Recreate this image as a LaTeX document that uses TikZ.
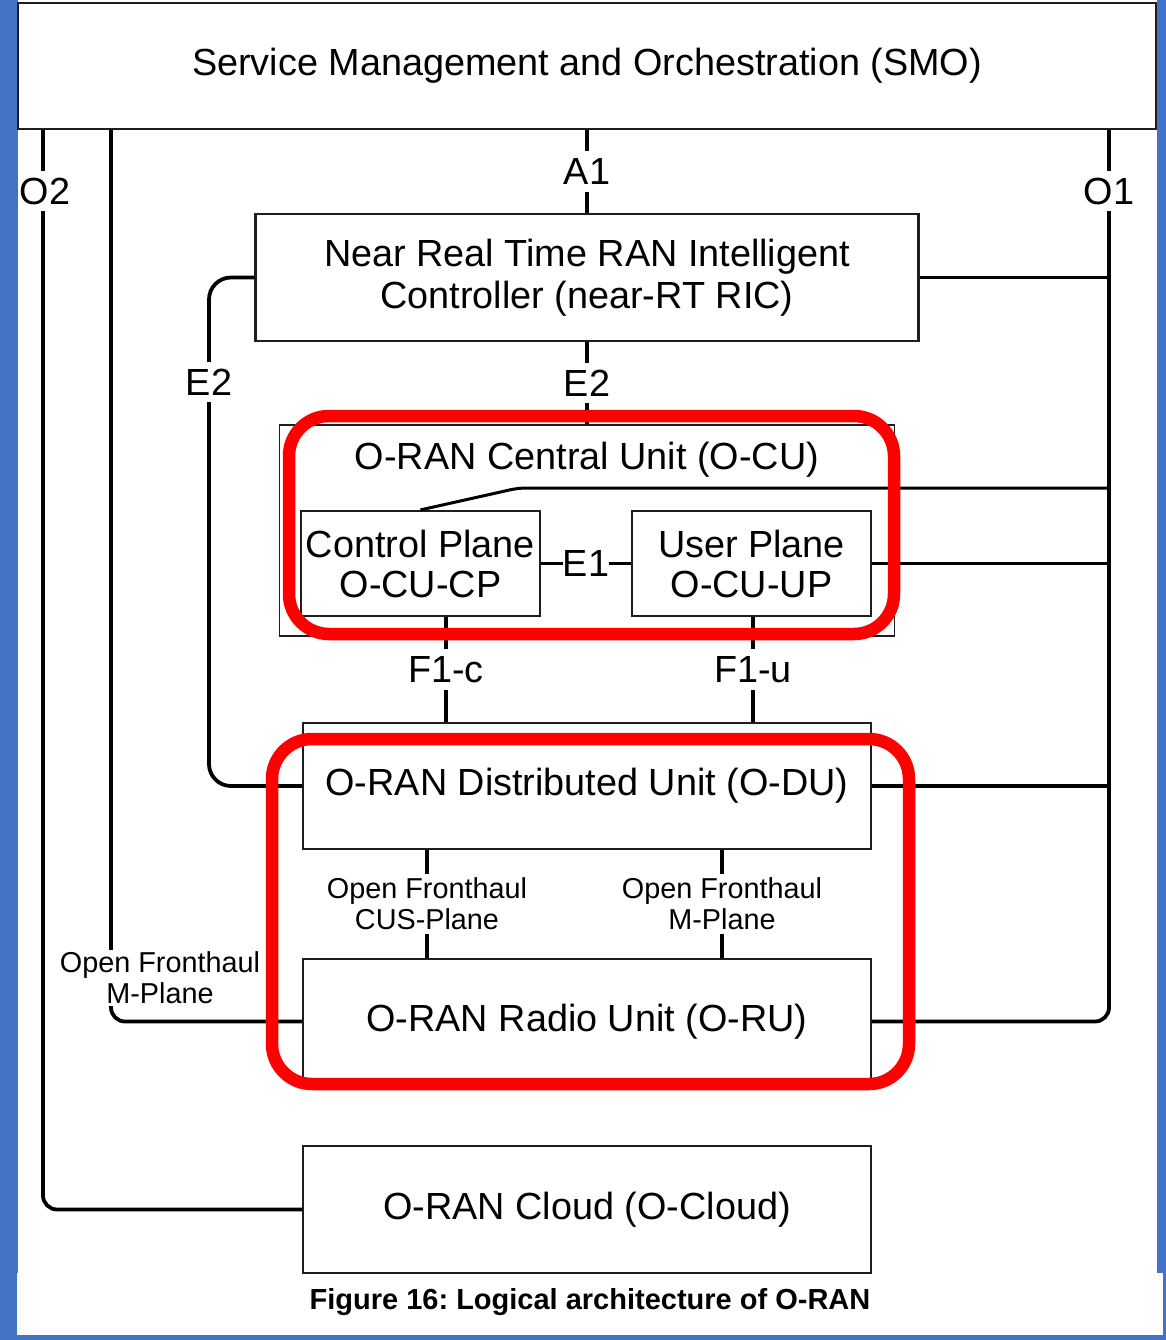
\documentclass[tikz,border=0pt]{standalone}
\usepackage{fontspec}
\setmainfont{Liberation Sans}
\frenchspacing
\definecolor{bgblue}{RGB}{68,114,196}
\definecolor{boxline}{RGB}{30,30,30}
\begin{document}
\begin{tikzpicture}[x=1pt,y=-1pt,
  box/.style={draw=boxline, line width=2.2pt, fill=white, inner sep=0pt, align=center,
    font=\fontsize{37.8}{42}\selectfont},
  conn/.style={line width=3.8pt, black},
  lbl/.style={fill=white, inner xsep=2pt, inner ysep=7pt, font=\fontsize{37.8}{42}\selectfont},
  small/.style={fill=white, inner sep=1pt, align=center, font=\fontsize{28.8}{31}\selectfont},
  redbox/.style={draw=red, line width=12.5pt, rounded corners=40pt},
]
\useasboundingbox (0,0) rectangle (1166,1340);
% background
\fill[bgblue] (0,0) rectangle (1166,1340);
\fill[white] (18,0) rectangle (1157,1273);
\fill[white] (17,1273) rectangle (1163,1335);

% boxes
\node[box, minimum width=1138, minimum height=126] (smo) at (587,66) {Service Management and Orchestration (SMO)};
\node[box, minimum width=663, minimum height=127] (ric) at (587,277.5) {Near Real Time RAN Intelligent\\Controller (near-RT RIC)};
\node[box, line width=1.4pt, minimum width=615, minimum height=211] (ocu) at (587,530.5) {};
\node[font=\fontsize{37.8}{42}\selectfont, inner sep=0pt] (ocut) at (587,460) {O-RAN Central Unit (O-CU)};
\node[box, minimum width=239, minimum height=105, font=\fontsize{37.8}{40}\selectfont] (cp) at (420.5,563.5) {Control Plane\\O-CU-CP};
\node[box, minimum width=239, minimum height=105, font=\fontsize{37.8}{40}\selectfont] (up) at (751.5,563.5) {User Plane\\O-CU-UP};
\node[box, minimum width=568, minimum height=126] (odu) at (587,786) {O-RAN Distributed Unit (O-DU)};
\node[box, minimum width=568, minimum height=125] (oru) at (587,1021.5) {O-RAN Radio Unit (O-RU)};
\node[box, minimum width=568, minimum height=127] (ocloud) at (587,1209.5) {O-RAN Cloud (O-Cloud)};

% helper coordinates
\coordinate (o1) at (1109,0);
\coordinate (o2) at (43,0);
\coordinate (mpx) at (111,0);
\coordinate (e2x) at (209,0);
\coordinate (f1c) at (446,0);
\coordinate (f1u) at (753,0);
\coordinate (cusx) at (427,0);
\coordinate (mpr) at (722,0);
\coordinate (k1) at (505,491);
\coordinate (k2) at (540,488);

% connectors
\draw[conn] (smo.south) -- node[lbl] (a1l) {A1} (ric.north);
\draw[conn] (ric.south) -- node[lbl] (e2m) {E2} (ocu.north);
\draw[conn, rounded corners=14] (smo.south -| o1) |- (oru.east);
\draw[conn, rounded corners=14] (smo.south -| o2) |- (ocloud.west);
\draw[conn, rounded corners=14] (smo.south -| mpx) |- (oru.west);
\draw[conn, rounded corners=22] (ric.west) -- (ric.west -| e2x) |- (odu.west);
\draw[conn] (ric.east) -- (ric.east -| o1);
\draw[line width=3pt] (cp.north) -- (k1) .. controls (518,488) .. (k2) -- (k2 -| o1);
\draw[conn] (up.east) -- (up.east -| o1);
\draw[conn] (cp.east) -- node[fill=white, inner sep=0pt, font=\fontsize{37.8}{42}\selectfont] (e1l) {E1} (up.west);
\draw[conn] (cp.south -| f1c) -- node[lbl] (f1cl) {F1-c} (odu.north -| f1c);
\draw[conn] (up.south -| f1u) -- node[lbl] (f1ul) {F1-u} (odu.north -| f1u);
\draw[conn] (odu.east) -- (odu.east -| o1);
\draw[conn] (odu.south -| cusx) -- node[small, inner ysep=4pt] (cusl) {Open Fronthaul\\CUS-Plane} (oru.north -| cusx);
\draw[conn] (odu.south -| mpr) -- node[small, inner ysep=4pt] (mprl) {Open Fronthaul\\M-Plane} (oru.north -| mpr);

% labels on the long lines
\node[lbl] (o1l) at (1109,191) {O1};
\node[lbl] (o2l) at (45,191) {O2};
\node[lbl] (e2ll) at (209,382) {E2};
\node[small, inner ysep=2pt] (mpll) at (160,978) {Open Fronthaul\\M-Plane};

% red highlight frames
\draw[redbox] (289,416) rectangle (894,634);
\draw[redbox] (272,739) rectangle (909,1084);

% caption
\node[font=\bfseries\fontsize{29}{34}\selectfont, inner sep=0pt] (cap) at (590,1302) {Figure 16: Logical architecture of O-RAN};
\end{tikzpicture}
\end{document}
